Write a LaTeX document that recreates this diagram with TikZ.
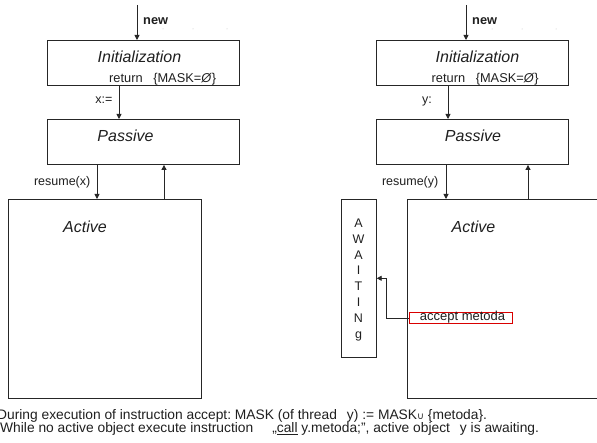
\documentclass[tikz,border=0pt]{standalone}
\usepackage{fontspec}
\setmainfont{Liberation Sans}
\newfontfamily\symfont{DejaVu Sans}
\usetikzlibrary{arrows.meta}
\frenchspacing

\tikzset{
  box/.style={draw=black!85, line width=0.9pt, inner sep=0pt, anchor=north west},
  conn/.style={draw=black!85, line width=0.9pt},
  arr/.style={conn, -{Triangle[length=5pt,width=5pt]}},
  lbl/.style={inner sep=0pt, text=black!88, font=\fontsize{12.5}{14}\selectfont},
  title/.style={inner sep=0pt, text=black!88, font=\fontsize{16}{18}\selectfont\itshape},
  bigtxt/.style={inner sep=0pt, text=black!88, font=\fontsize{12.8}{14}\selectfont},
  notetxt/.style={inner sep=0pt, text=black!88, font=\fontsize{13.8}{14}\selectfont},
  dotmark/.style={fill=black!25, draw=none}
}

\begin{document}
\begin{tikzpicture}[x=1pt,y=-1pt]
\useasboundingbox (0,0) rectangle (597,443);

% ---------------- left object: x ----------------
\coordinate (newL) at (137,5);
\node[box, minimum width=192pt, minimum height=45pt] (initL) at (47,40) {};
\node[box, minimum width=192pt, minimum height=45pt] (passL) at (47,119) {};
\node[box, minimum width=193pt, minimum height=199pt] (actL) at (8,199) {};

\node[lbl, font=\fontsize{12.8}{14}\selectfont\bfseries, anchor=base west] (newLtxt) at (143,25) {new};
\fill[dotmark] (163,29) circle (0.5pt) (193,29) circle (0.5pt) (227,29) circle (0.5pt);
\node[title, anchor=base] (initLtxt) at (139.5,62.5) {Initialization};
\node[bigtxt, anchor=base west] (retL) at (109,83) {return\ \ \ \{MASK=\textit{Ø}\}};
\node[title, anchor=base] (passLtxt) at (125.5,141.5) {Passive};
\node[title, anchor=base] (actLtxt) at (85,233) {Active};

\coordinate (xL) at (119,0);
\coordinate (resL) at (97,0);
\coordinate (upL) at (164,0);
\draw[arr] (newL) -- (newL |- initL.north);
\draw[arr] (xL |- initL.south) -- (xL |- passL.north);
\draw[arr] (resL |- passL.south) -- (resL |- actL.north);
\draw[arr] (upL |- actL.north) -- (upL |- passL.south);
\node[lbl, anchor=base east] (asgL) at (112.5,104) {x:=};
\node[lbl, anchor=base east] (resLtxt) at (90.5,186) {resume(x)};

% ---------------- right object: y ----------------
\coordinate (newR) at (466,5);
\node[box, minimum width=192pt, minimum height=45pt] (initR) at (376,40) {};
\node[box, minimum width=192pt, minimum height=45pt] (passR) at (376,119) {};
\node[box, minimum width=194pt, minimum height=199pt] (actR) at (407,199) {};
\node[box, minimum width=34.5pt, minimum height=158pt] (await) at (341.3,199) {};

\node[lbl, font=\fontsize{12.8}{14}\selectfont\bfseries, anchor=base west] (newRtxt) at (472,25) {new};
\fill[dotmark] (492,29) circle (0.5pt) (522,29) circle (0.5pt) (556,29) circle (0.5pt);
\node[title, anchor=base] (initRtxt) at (477.5,62.5) {Initialization};
\node[bigtxt, anchor=base west] (retR) at (431.5,83) {return\ \ \ \{MASK=\textit{Ø}\}};
\node[title, anchor=base] (passRtxt) at (473,141.5) {Passive};
\node[title, anchor=base] (actRtxt) at (473.5,233) {Active};

\coordinate (yR) at (448,0);
\coordinate (resR) at (446,0);
\coordinate (upR) at (528,0);
\draw[arr] (newR) -- (newR |- initR.north);
\draw[arr] (yR |- initR.south) -- (yR |- passR.north);
\draw[arr] (resR |- passR.south) -- (resR |- actR.north);
\draw[arr] (upR |- actR.north) -- (upR |- passR.south);
\node[lbl, anchor=base east] (asgR) at (432,104) {y:};
\node[lbl, anchor=base east] (resRtxt) at (438.5,186) {resume(y)};

% vertical AWAITING label
\foreach \ch [count=\i from 0] in {A,W,A,I,T,I,N,g}
  \node[lbl, anchor=base] (aw\i) at (358.5,227.5+15.8*\i) {\ch};

% accept statement and its link to the waiting box
\node[box, draw=red!85!black, line width=0.8pt, minimum width=103pt, minimum height=11.5pt] (acc) at (409,312) {};
\node[lbl, font=\fontsize{13}{14}\selectfont, anchor=base] (acctxt) at (462.5,320.5) {accept metoda};
\coordinate (bend) at (386,278.3);
\draw[arr] (acc.west) -| (bend) -- (bend -| await.east);

% ---------------- notes ----------------
\node[notetxt, anchor=base west] (note1) at (-3,419)
  {During execution of instruction accept: MASK (of thread\hspace{10pt}y) := MASK{\symfont\fontsize{9.5}{10}\selectfont ∪} \{metoda\}.};
\node[notetxt, anchor=base west] (note2) at (0,432.5)
  {While no active object execute instruction\hspace{19pt}„\underline{call} y.metoda;", active object\hspace{10pt}y is awaiting.};
\end{tikzpicture}
\end{document}
